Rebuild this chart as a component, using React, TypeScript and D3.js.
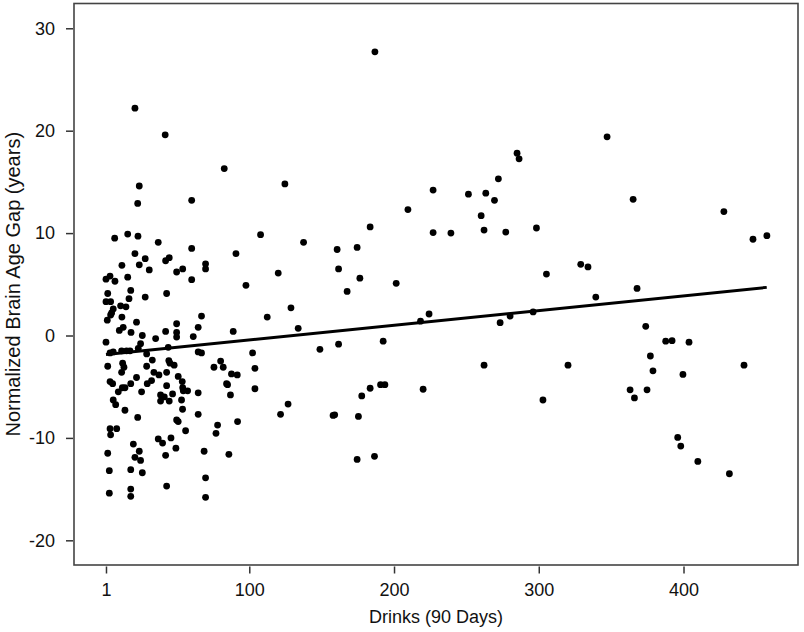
import React, { useEffect, useRef } from "react";
import * as d3 from "d3";

// drinks in the last 90 days, one entry per subject
const drinks = [
  21.0, 41.9, 82.7, 24.0, 60.2, 22.9,
  7.0, 16.0, 23.1, 37.1, 107.8, 21.0, 60.2, 90.8, 28.1, 24.0, 30.9, 12.0,
  42.2, 44.7, 49.8, 54.0, 69.8, 69.8, 60.2, 97.7,
  1, 3.8, 7.2, 16, 2.2, 18.1, 16.9, 28.1, 42.9,
  1, 4.2, 6.0, 4.9, 4.2, 11.1, 14.8, 12, 1.9, 22.1, 67, 112.4,
  12.9, 10.2, 18.3, 26.1, 35.3, 42.2, 49.8, 49.8, 49.8, 64.7, 61.3, 88.9,
  1, 24.9, 23.3, 44,
  3.8, 6.0, 11.8, 15.2, 17.6, 29.1, 64.7, 67, 102.3,
  2.2, 12.5, 13.4, 11.8, 33, 29.1, 44.4, 45.2, 48.1, 37.6, 34.1, 42.9,
  75.6, 80.2, 82, 87.7, 91.7, 103.9,
  3.8, 5.6, 22.1, 29.5, 18.1, 50.9, 53.7, 42.9, 84.3,
  9.5, 12.3, 14.1, 25.6, 32.5, 38.7, 38.7, 41.3, 44.7, 47,
  54, 54.4, 57.4, 53.2, 64.7, 85, 87, 103.9,
  6, 7.7, 14.1, 22.9, 53.9, 64.7, 49.8, 50.9, 56, 78.1, 77, 91.9,
  3.8, 8.4, 4.2, 19.9, 37.1, 40.1, 45.9, 49.3, 2.2, 24, 21, 24.9, 42.2, 68.8, 85.9,
  3.3, 18.1, 26.1, 69.8, 3.3, 18.1, 18.1, 42.9, 69.8,
  186.8, 124.6, 285, 286.4, 272.1, 227, 251.4, 263.4, 269.4, 260.2, 209.6, 183.5,
  227, 239.3, 262.2, 277.2, 137.5, 160.7, 174.5, 161.7, 176.4, 120, 201.5, 167.6,
  128.8, 133.8, 148.8, 161.7, 192.5, 218.3, 224.2, 273.3, 280.2, 262.2, 220.1,
  190.7, 193.7, 183.5, 177.7, 126.8, 121.6, 157.9, 159, 175.4, 174.5, 186.5,
  347.2, 365.2, 427.9, 298.4, 448, 457.6, 305.3, 329, 334, 367.9,
  339.4, 296.1, 373.9, 387.7, 392.1, 403.8, 377.1, 378.9, 320.2, 441.8, 399.6,
  363.1, 366.1, 374.8, 302.9, 396, 398.1, 409.9, 431.7,
];

// normalized brain age gap (years), same order as drinks
const gap = [
  22.2, 19.6, 16.3, 14.6, 13.2, 12.9,
  9.5, 9.9, 9.7, 9.1, 9.85, 8.0, 8.5, 8.0, 7.5, 6.9, 6.4, 6.85,
  7.3, 7.6, 6.2, 6.5, 7.0, 6.5, 5.45, 4.9,
  5.5, 5.8, 5.3, 5.7, 4.1, 4.4, 3.6, 3.75, 4.1,
  3.3, 3.3, 2.6, 2.2, 2.0, 2.9, 2.8, 1.8, 1.5, 1.3, 1.9, 1.8,
  0.8, 0.5, 0.3, 0, -0.3, 0.4, 1.15, 0.3, -0.15, 0.8, -0.1, 0.4,
  -0.65, -0.8, -1.25, -1.15,
  -1.7, -1.6, -1.5, -1.5, -1.5, -1.8, -1.6, -1.7, -1.7,
  -3.0, -2.7, -3.1, -3.6, -2.4, -3.0, -2.45, -2.7, -2.9, -3.85, -3.6, -3.6,
  -3.1, -2.5, -3.1, -3.75, -3.85, -3.2,
  -4.5, -4.7, -4.1, -4.7, -4.7, -4.0, -4.5, -4.9, -4.7,
  -5.5, -5.1, -5.1, -5.5, -4.4, -5.8, -6.4, -6.0, -6.4, -5.7,
  -5.1, -5.4, -5.4, -6.3, -5.6, -4.8, -5.8, -5.2,
  -6.3, -6.75, -7.3, -8.0, -7.2, -7.7, -8.25, -8.4, -9.3, -8.75, -9.55, -8.4,
  -9.1, -9.1, -9.7, -10.6, -10.1, -10.5, -10, -11.0, -11.5, -11.3, -11.9, -12.2, -11.7, -11.3, -11.6,
  -13.2, -13.1, -13.4, -13.9, -15.4, -15.0, -15.7, -14.7, -15.8,
  27.7, 14.8, 17.8, 17.25, 15.3, 14.2, 13.8, 13.9, 13.2, 11.7, 12.3, 10.6,
  10.05, 10.0, 10.3, 10.1, 9.1, 8.4, 8.6, 6.5, 5.6, 6.1, 5.1, 4.3,
  2.7, 0.7, -1.35, -0.85, -0.55, 1.4, 2.1, 1.25, 1.9, -2.9, -5.25,
  -4.8, -4.8, -5.15, -5.9, -6.7, -7.7, -7.8, -7.75, -7.9, -12.1, -11.8,
  19.4, 13.3, 12.1, 10.5, 9.4, 9.75, 6.0, 6.95, 6.7, 4.6,
  3.75, 2.3, 0.9, -0.55, -0.5, -0.65, -2.0, -3.45, -2.9, -2.9, -3.8,
  -5.3, -6.1, -5.3, -6.3, -9.95, -10.8, -12.3, -13.5,
];

// fitted regression line, endpoints
const fitDrinks = [1, 457.5];
const fitGap = [-1.85, 4.7];

const xTicks = [1, 100, 200, 300, 400];
const yTicks = [-20, -10, 0, 10, 20, 30];

const W = 804;
const H = 632;
const left = 74;
const right = 798;
const top = 3.5;
const bottom = 565;
const font = "'Liberation Sans', Arial, Helvetica, sans-serif";

export default function App() {
  const ref = useRef<SVGSVGElement>(null);

  useEffect(() => {
    const svg = d3.select(ref.current);
    svg.selectAll("*").remove();

    const x = d3.scaleLinear().domain([-21.1, 479.1]).range([left, right]);
    const y = d3.scaleLinear().domain([32.42, -22.41]).range([top, bottom]);

    svg.append("rect").attr("width", W).attr("height", H).attr("fill", "#fff");

    // x axis (ticks sit just under the frame)
    const gx = svg
      .append("g")
      .attr("transform", `translate(0,${bottom + 1.5})`)
      .call(d3.axisBottom(x).tickValues(xTicks).tickSize(7).tickPadding(10).tickFormat((d) => String(d)));
    gx.select(".domain").remove();

    // y axis, plain hyphen for negatives like the original
    const gy = svg
      .append("g")
      .attr("transform", `translate(${left - 1},0)`)
      .call(d3.axisLeft(y).tickValues(yTicks).tickSize(7).tickPadding(11).tickFormat((d) => String(d)));
    gy.select(".domain").remove();

    svg
      .selectAll(".tick line")
      .attr("stroke", "#333")
      .attr("stroke-width", 1.5);
    svg
      .selectAll(".tick text")
      .attr("font-family", font)
      .attr("font-size", 18)
      .attr("fill", "#111");

    svg
      .append("rect")
      .attr("x", left)
      .attr("y", top)
      .attr("width", right - left)
      .attr("height", bottom - top)
      .attr("fill", "none")
      .attr("stroke", "#444")
      .attr("stroke-width", 1.6);

    const points = drinks.map((d, i) => ({ d, g: gap[i] }));
    svg
      .append("g")
      .selectAll("circle")
      .data(points)
      .enter()
      .append("circle")
      .attr("cx", (p) => x(p.d))
      .attr("cy", (p) => y(p.g))
      .attr("r", 3.4)
      .attr("fill", "#000");

    const fit = fitDrinks.map((d, i) => ({ d, g: fitGap[i] }));
    const line = d3
      .line<{ d: number; g: number }>()
      .x((p) => x(p.d))
      .y((p) => y(p.g));
    svg
      .append("path")
      .datum(fit)
      .attr("d", line)
      .attr("fill", "none")
      .attr("stroke", "#000")
      .attr("stroke-width", 3);

    svg
      .append("text")
      .attr("x", (left + right) / 2)
      .attr("y", 623)
      .attr("text-anchor", "middle")
      .attr("font-family", font)
      .attr("font-size", 18)
      .attr("fill", "#111")
      .text("Drinks (90 Days)");

    svg
      .append("text")
      .attr("transform", `translate(20,${(top + bottom) / 2}) rotate(-90)`)
      .attr("text-anchor", "middle")
      .attr("font-family", font)
      .attr("font-size", 20)
      .attr("fill", "#111")
      .text("Normalized Brain Age Gap (years)");
  }, []);

  return (
    <div style={{ position: "absolute", left: 0, top: 0 }}>
      <svg ref={ref} width={W} height={H} style={{ display: "block" }} />
    </div>
  );
}
